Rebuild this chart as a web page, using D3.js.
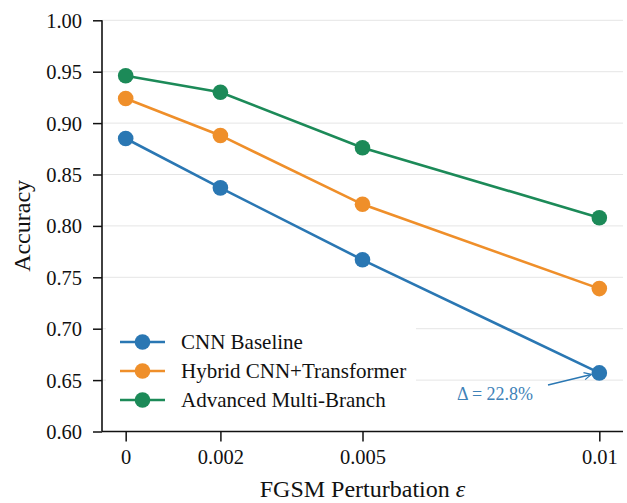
<!DOCTYPE html>
<html>
<head>
<meta charset="utf-8">
<script src="https://cdn.jsdelivr.net/npm/d3@7"></script>
<style>
  html, body { margin: 0; padding: 0; background: #fff; }
  svg { display: block; font-family: "Liberation Serif", "DejaVu Serif", serif; }
</style>
</head>
<body>
<div id="chart"></div>
<script>
// Data
const epsilons = [0, 0.002, 0.005, 0.01];
const xTickLabels = ['0', '0.002', '0.005', '0.01'];
const cnnBaseline = [0.885, 0.837, 0.767, 0.657];
const hybridCnnTransformer = [0.924, 0.888, 0.821, 0.739];
const advancedMultiBranch = [0.946, 0.930, 0.876, 0.808];
const seriesNames = ['CNN Baseline', 'Hybrid CNN+Transformer', 'Advanced Multi-Branch'];
const seriesColors = ['#2a77b3', '#ef8f2a', '#1c8a58'];
const yTicks = [0.60, 0.65, 0.70, 0.75, 0.80, 0.85, 0.90, 0.95, 1.00];
const annotationText = 'Δ = 22.8%';

const W = 627, H = 503;
const margin = { top: 20.3, right: 4, bottom: 71.5, left: 102 };

const svg = d3.select('#chart').append('svg')
  .attr('width', W)
  .attr('height', H);

const x = d3.scaleLinear()
  .domain([-0.0005, 0.0105])
  .range([margin.left, W - margin.right]);

const y = d3.scaleLinear()
  .domain([0.60, 1.00])
  .range([H - margin.bottom, margin.top]);

// Grid
svg.append('g')
  .selectAll('line')
  .data(yTicks.slice(1))
  .enter()
  .append('line')
  .attr('x1', margin.left)
  .attr('x2', W - margin.right)
  .attr('y1', d => y(d))
  .attr('y2', d => y(d))
  .attr('stroke', '#e5e5e5')
  .attr('stroke-width', 1);

// Axes
const xAxis = svg.append('g')
  .attr('transform', `translate(0,${H - margin.bottom})`)
  .call(d3.axisBottom(x).tickValues(epsilons).tickFormat((d, i) => xTickLabels[i]).tickSize(10).tickPadding(8));

const yAxis = svg.append('g')
  .attr('transform', `translate(${margin.left},0)`)
  .call(d3.axisLeft(y).tickValues(yTicks).tickFormat(d3.format('.2f')).tickSize(9).tickPadding(11));

[xAxis, yAxis].forEach(ax => {
  ax.select('.domain').attr('stroke', '#111').attr('stroke-width', 1.6);
  ax.selectAll('.tick line').attr('stroke', '#111').attr('stroke-width', 1.5);
  ax.selectAll('.tick text')
    .attr('fill', '#111')
    .style('font-family', '"Liberation Serif", serif')
    .style('font-size', '20.5px');
});
// trim domain end caps (no outer ticks)
xAxis.select('.domain').attr('d', `M${margin.left},0H${W - margin.right}`);
yAxis.select('.domain').attr('d', `M0,${H - margin.bottom}V${margin.top}`);
yAxis.selectAll('.tick text').attr('dy', '0.34em');

// Axis titles
svg.append('text')
  .attr('x', (x(0) + x(0.01)) / 2)
  .attr('y', 497)
  .attr('text-anchor', 'middle')
  .attr('fill', '#111')
  .style('font-size', '24px')
  .html('FGSM Perturbation <tspan font-style="italic">ε</tspan>');

svg.append('text')
  .attr('transform', `translate(30,${(margin.top + H - margin.bottom) / 2}) rotate(-90)`)
  .attr('text-anchor', 'middle')
  .attr('fill', '#111')
  .style('font-size', '24px')
  .text('Accuracy');

// Series
const series = [cnnBaseline, hybridCnnTransformer, advancedMultiBranch];
const line = d3.line()
  .x((d, i) => x(epsilons[i]))
  .y(d => y(d));

series.forEach((vals, s) => {
  svg.append('path')
    .datum(vals)
    .attr('fill', 'none')
    .attr('stroke', seriesColors[s])
    .attr('stroke-width', 2.6)
    .attr('d', line);

  svg.append('g')
    .selectAll('circle')
    .data(vals)
    .enter()
    .append('circle')
    .attr('cx', (d, i) => x(epsilons[i]))
    .attr('cy', d => y(d))
    .attr('r', 7.8)
    .attr('fill', seriesColors[s]);
});

// Legend (white box, no edge)
const legend = svg.append('g');
legend.append('rect')
  .attr('x', 106)
  .attr('y', 318)
  .attr('width', 310)
  .attr('height', 100)
  .attr('fill', '#fff');

seriesNames.forEach((name, i) => {
  const ly = 342 + i * 29;
  legend.append('line')
    .attr('x1', 120).attr('x2', 165)
    .attr('y1', ly).attr('y2', ly)
    .attr('stroke', seriesColors[i])
    .attr('stroke-width', 2.6);
  legend.append('circle')
    .attr('cx', 142.5).attr('cy', ly)
    .attr('r', 7.8)
    .attr('fill', seriesColors[i]);
  legend.append('text')
    .attr('x', 181)
    .attr('y', ly)
    .attr('dy', '0.35em')
    .attr('fill', '#111')
    .style('font-size', '21px')
    .text(name);
});

// Annotation with arrow
const defs = svg.append('defs');
defs.append('marker')
  .attr('id', 'arrowhead')
  .attr('viewBox', '0 0 10 10')
  .attr('refX', 9).attr('refY', 5)
  .attr('markerWidth', 9).attr('markerHeight', 9)
  .attr('markerUnits', 'userSpaceOnUse')
  .attr('orient', 'auto')
  .append('path')
  .attr('d', 'M1,1 L9,5 L1,9')
  .attr('fill', 'none')
  .attr('stroke', '#2a77b3')
  .attr('stroke-width', 1.4);

const endX = x(epsilons[3]), endY = y(cnnBaseline[3]);
svg.append('line')
  .attr('x1', 548).attr('y1', 385)
  .attr('x2', endX - 8).attr('y2', endY + 1.5)
  .attr('stroke', '#2a77b3')
  .attr('stroke-width', 1.5)
  .attr('marker-end', 'url(#arrowhead)');

svg.append('text')
  .attr('x', 495)
  .attr('y', 400)
  .attr('text-anchor', 'middle')
  .attr('fill', '#3f82b8')
  .style('font-size', '18px')
  .text(annotationText);
</script>
</body>
</html>
